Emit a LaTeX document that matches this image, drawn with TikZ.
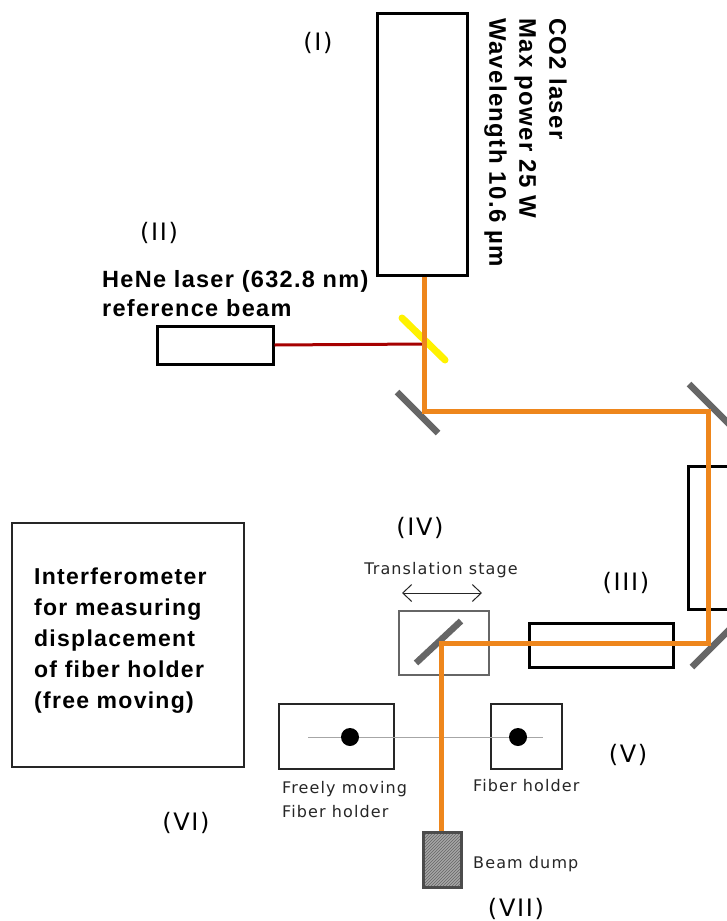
\documentclass[tikz,border=0pt]{standalone}
\usepackage{fontspec}
\setmainfont[LetterSpace=7]{DejaVu Sans}
\newfontfamily\labelfont[LetterSpace=5.5]{Liberation Sans}
\usetikzlibrary{arrows.meta,positioning,patterns}
\definecolor{beamorange}{HTML}{EE861C}
\definecolor{mirrorgrey}{HTML}{666666}
\tikzset{box/.style={draw=black,line width=3pt,inner sep=0pt},
 thin box/.style={draw=black!85,line width=1.5pt,inner sep=0pt},
 beam/.style={draw=beamorange,line width=5pt,line join=miter},
 mirror/.style={draw=mirrorgrey,line width=6.5pt},
 tag/.style={font=\fontsize{24}{26}\selectfont,inner sep=0pt},
 small/.style={font=\fontsize{16}{24}\selectfont,align=left,inner sep=0pt,text=black!85},
 note/.style={font=\labelfont\bfseries\fontsize{23}{31}\selectfont,align=left,inner sep=0pt}}

\begin{document}
\begin{tikzpicture}[x=1pt,y=-1pt]
\clip(0,0)rectangle(727,921);
% lasers and boxes
\node[box,minimum width=90pt,minimum height=262pt](co2) at(422,144){};
\node[box,minimum width=116pt,minimum height=38pt](hene) at(215,345){};
\node[box,minimum width=90pt,minimum height=143pt](lens) at(733,537.5){};
\node[box,minimum width=144pt,minimum height=44pt](modulator) at(601,645){};
\node[draw=mirrorgrey,line width=2.6pt,inner sep=0pt,minimum width=90pt,minimum height=64pt](stage) at(444,643){};
\node[thin box,minimum width=232pt,minimum height=244pt](interf) at(128,645){};
\node[thin box,minimum width=115pt,minimum height=65pt](free) at(336.5,736.5){};
\node[thin box,minimum width=71pt,minimum height=65pt](holder) at(526.5,736.5){};
\node[draw=black!70,line width=3pt,inner sep=0pt,minimum width=38pt,minimum height=55pt,
 pattern=north east lines,pattern color=black!60,preaction={fill=black!35}](dump) at(442,859.5){};
% beam turning points
\coordinate(bs) at(424,344);
\coordinate(m1) at(424,411);
\coordinate(m2) at(708,411);
\coordinate(m3) at(708,643);
\coordinate(m4) at(441,643);
\coordinate(wl) at(308,737);
\coordinate(wr) at(543,737);
% mirrors
\draw[draw=yellow,line width=7pt,line cap=round](402,318)--(445,360);
\draw[mirror](397,392)--(438,433);
\draw[mirror](689,384)--(735,430);
\draw[mirror](692,667)--(735,624);
\draw[mirror](416,663)--(461,621);
% fiber
\draw[draw=black!35,line width=1pt](wl)--(wr);
\node[circle,fill=black,minimum size=18pt,inner sep=0pt](df) at(350,737){};
\node[circle,fill=black,minimum size=18pt,inner sep=0pt](dh) at(518,737){};
% beams
\draw[draw=red!65!black,line width=3pt](hene.east)--(bs);
\draw[beam](m1|-co2.south)--(m1)--(m2)--(m3)--(m4)--(m4|-dump.north);
\draw[{Straight Barb[length=9pt,width=17pt]}-{Straight Barb[length=9pt,width=17pt]},black!85,line width=1pt](402,593)--(482,593);
% text
\node[tag] at(318,43){(I)};
\node[tag] at(159,233){(II)};
\node[tag] at(626,583){(III)};
\node[tag] at(420,528){(IV)};
\node[tag] at(628,755){(V)};
\node[tag] at(186,823){(VI)};
\node[tag] at(516,909){(VII)};
\node[note,rotate=-90,anchor=north west,font=\labelfont\bfseries\fontsize{24}{30}\selectfont] at(567,18){CO2 laser\\Max power 25 W\\Wavelength 10.6 µm};
\node[note,anchor=north west,font=\labelfont\bfseries\fontsize{23.5}{29}\selectfont] at(102,270){HeNe laser (632.8 nm)\\reference beam};
\node[note,anchor=north west] at(34,568){Interferometer\\for measuring\\displacement\\of fiber holder\\(free moving)};
\node[small,anchor=center] at(441,570){Translation stage};
\node[small,anchor=north west] at(282,781){Freely moving\\Fiber holder};
\node[small,anchor=north west] at(473,779){Fiber holder};
\node[small,anchor=west] at(473,864){Beam dump};
\end{tikzpicture}
\end{document}
